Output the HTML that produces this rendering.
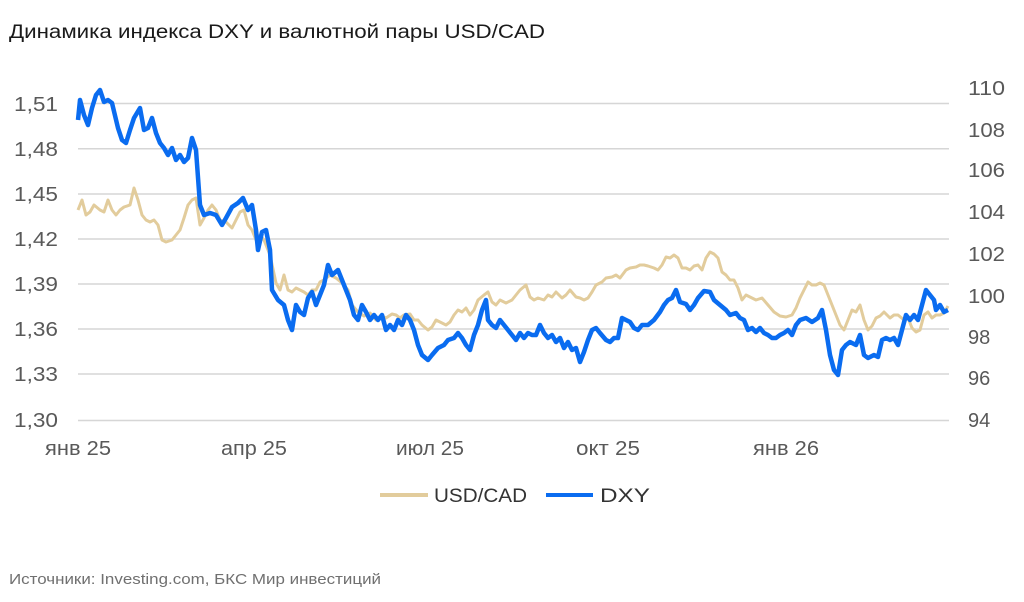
<!DOCTYPE html>
<html><head><meta charset="utf-8"><style>
html,body{margin:0;padding:0;background:#fff;}
svg{display:block;font-family:"Liberation Sans",Arial,sans-serif;}
</style></head><body>
<svg width="1024" height="602" viewBox="0 0 1024 602" xmlns="http://www.w3.org/2000/svg">
<text x="9" y="38" font-size="19" fill="#1a1a1a" textLength="536" lengthAdjust="spacingAndGlyphs">Динамика индекса DXY и валютной пары USD/CAD</text>
<g stroke="#d6d6d6" stroke-width="1.5">
<line x1="78" x2="949" y1="103.5" y2="103.5"/>
<line x1="78" x2="949" y1="148.7" y2="148.7"/>
<line x1="78" x2="949" y1="194" y2="194"/>
<line x1="78" x2="949" y1="239" y2="239"/>
<line x1="78" x2="949" y1="284" y2="284"/>
<line x1="78" x2="949" y1="329" y2="329"/>
<line x1="78" x2="949" y1="374" y2="374"/>
<line x1="78" x2="949" y1="420.5" y2="420.5"/>
</g>
<g font-size="20" fill="#595959" text-anchor="start">
<text x="14" y="111" textLength="44" lengthAdjust="spacingAndGlyphs">1,51</text><text x="14" y="156" textLength="44" lengthAdjust="spacingAndGlyphs">1,48</text><text x="14" y="201" textLength="44" lengthAdjust="spacingAndGlyphs">1,45</text><text x="14" y="246" textLength="44" lengthAdjust="spacingAndGlyphs">1,42</text>
<text x="14" y="291" textLength="44" lengthAdjust="spacingAndGlyphs">1,39</text><text x="14" y="336" textLength="44" lengthAdjust="spacingAndGlyphs">1,36</text><text x="14" y="381" textLength="44" lengthAdjust="spacingAndGlyphs">1,33</text><text x="14" y="427" textLength="44" lengthAdjust="spacingAndGlyphs">1,30</text>
<text x="968" y="95" textLength="37" lengthAdjust="spacingAndGlyphs">110</text><text x="968" y="137" textLength="37" lengthAdjust="spacingAndGlyphs">108</text><text x="968" y="177" textLength="37" lengthAdjust="spacingAndGlyphs">106</text><text x="968" y="219" textLength="37" lengthAdjust="spacingAndGlyphs">104</text>
<text x="968" y="261" textLength="37" lengthAdjust="spacingAndGlyphs">102</text><text x="968" y="303" textLength="37" lengthAdjust="spacingAndGlyphs">100</text><text x="968" y="344">98</text><text x="968" y="385">96</text><text x="968" y="427">94</text>
</g>
<g font-size="20" fill="#595959">
<text x="45" y="455" textLength="66" lengthAdjust="spacingAndGlyphs">янв 25</text><text x="221" y="455" textLength="66" lengthAdjust="spacingAndGlyphs">апр 25</text><text x="396" y="455" textLength="68" lengthAdjust="spacingAndGlyphs">июл 25</text><text x="576" y="455" textLength="64" lengthAdjust="spacingAndGlyphs">окт 25</text><text x="753" y="455" textLength="66" lengthAdjust="spacingAndGlyphs">янв 26</text>
</g>
<polyline fill="none" stroke="#e2cc9c" stroke-width="3" stroke-linejoin="round" points="78,210 82,200 86,215 90,212 94,205 100,210 104,212 108,200 112,210 116,215 120,210 124,207 130,205 134,188 138,200 142,215 146,220 150,222 154,220 158,225 162,240 166,242 172,240 176,235 180,230 184,218 188,205 192,200 196,198 200,225 204,218 208,210 212,205 216,210 220,220 226,222 232,228 236,220 240,212 244,210 248,225 252,230 256,240 260,235 264,240 270,255 276,283 280,290 284,275 288,290 292,292 296,288 300,290 304,292 308,295 312,290 316,290 320,282 324,280 330,275 336,278 342,283 348,290 352,305 358,312 364,316 370,313 376,320 382,316 386,318 392,314 396,315 400,318 404,315 410,314 414,320 418,320 422,325 428,330 432,327 436,320 440,322 446,325 450,322 454,315 458,310 462,312 466,308 470,315 474,310 478,300 484,295 488,292 492,302 496,305 500,300 506,303 512,300 516,295 520,290 526,285 530,297 534,300 538,298 544,300 548,295 552,297 556,292 562,298 566,295 570,290 576,297 580,298 584,300 588,298 592,292 596,285 602,282 606,278 612,277 616,275 620,278 626,270 630,268 636,267 640,265 644,265 648,266 654,268 658,270 662,265 666,257 670,258 674,255 678,258 682,268 686,268 690,270 694,266 698,265 702,270 706,258 710,252 714,254 718,258 722,272 726,275 730,280 734,280 738,288 742,300 746,295 750,297 756,300 762,298 768,305 774,312 780,316 786,317 792,315 796,308 800,298 804,290 808,282 812,285 816,285 820,283 824,285 828,295 832,305 836,315 840,325 844,330 848,320 852,310 856,312 860,305 864,320 868,330 872,326 876,318 880,316 884,312 890,318 894,315 898,315 904,320 908,318 912,328 916,332 920,330 924,315 928,312 932,318 936,315 940,315 944,313 948,306"/>
<polyline fill="none" stroke="#0a6cf0" stroke-width="4.5" stroke-linejoin="round" points="78,120 80,100 84,115 88,125 92,108 96,95 100,90 104,102 108,100 112,103 118,128 122,140 126,143 130,130 134,118 140,108 144,130 148,128 152,118 156,133 160,143 164,148 168,155 172,148 176,160 180,155 184,162 188,158 192,138 196,150 200,205 204,215 210,213 216,215 222,225 226,218 232,207 238,203 243,198 248,210 252,205 256,230 258,250 262,232 266,230 270,250 272,290 278,300 284,305 288,320 292,330 296,305 300,312 304,315 308,298 312,292 316,305 320,295 324,285 328,265 332,275 338,270 344,285 350,300 354,315 358,320 362,305 366,312 370,320 374,315 378,320 382,315 386,330 390,325 394,330 398,320 402,325 406,315 410,320 414,330 418,345 422,355 428,360 432,355 438,348 444,345 448,340 454,338 458,333 462,338 466,345 470,350 474,335 478,325 482,310 486,300 488,320 492,325 496,328 500,320 504,325 508,330 512,335 516,340 520,333 524,338 528,333 532,335 536,335 540,325 544,333 548,338 552,335 556,342 560,338 564,348 568,342 572,350 576,348 580,362 584,352 588,340 592,330 596,328 600,333 606,340 610,342 614,338 618,338 622,318 626,320 630,322 634,328 638,330 642,325 648,325 654,320 660,312 664,305 668,300 672,298 676,290 680,302 686,304 690,310 694,305 698,298 704,291 710,292 714,300 720,305 726,310 730,315 736,313 740,318 744,320 748,330 752,328 756,332 760,328 764,333 768,335 772,338 776,338 780,335 784,333 788,330 792,335 796,325 800,320 806,318 812,322 818,318 822,310 826,330 830,355 834,370 838,375 842,350 846,345 850,342 856,345 860,335 864,355 868,358 874,355 878,357 882,340 886,338 890,340 894,338 898,345 902,330 906,315 910,320 914,315 918,320 922,305 926,290 930,295 934,300 936,310 940,305 944,312 948,310"/>
<line x1="380" x2="428" y1="495" y2="495" stroke="#e2cc9c" stroke-width="4"/>
<text x="434" y="502" font-size="19" fill="#333" textLength="93" lengthAdjust="spacingAndGlyphs">USD/CAD</text>
<line x1="546" x2="593" y1="495" y2="495" stroke="#0a6cf0" stroke-width="4"/>
<text x="600" y="502" font-size="19" fill="#333" textLength="50" lengthAdjust="spacingAndGlyphs">DXY</text>
<text x="9" y="584" font-size="15" fill="#707070" textLength="372" lengthAdjust="spacingAndGlyphs">Источники: Investing.com, БКС Мир инвестиций</text>
</svg>
</body></html>
